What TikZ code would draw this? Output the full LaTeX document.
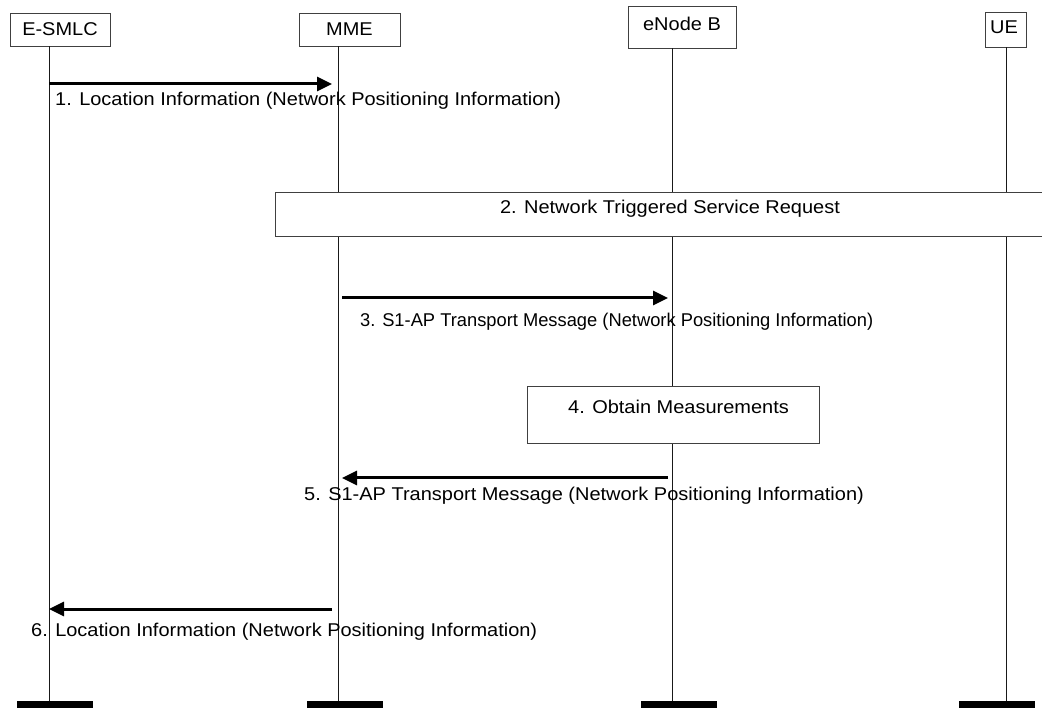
\documentclass[tikz,border=0pt]{standalone}
\usepackage{fontspec}
\setmainfont{Liberation Sans}
\usetikzlibrary{arrows.meta}
\newcommand{\wx}[1]{\scalebox{1.08}[1]{#1}}
\begin{document}
\begin{tikzpicture}[x=1pt,y=-1pt,
  box/.style={draw=black!75, line width=0.9pt, fill=white, inner sep=0pt},
  txt/.style={inner sep=0pt, font=\fontsize{18.5}{21}\selectfont},
  life/.style={line width=1pt, black!90},
  msg/.style={line width=3pt, -{Triangle[length=15pt,width=14pt]}},
  bar/.style={fill=black, inner sep=0pt, minimum width=76pt, minimum height=7pt}]
\useasboundingbox (0,0) rectangle (1042,708);
\clip (0,0) rectangle (1042,708);
% lifeline x positions
\coordinate (x1) at (49,0);
\coordinate (x2) at (338,0);
\coordinate (x3) at (672,0);
\coordinate (x4) at (1006,0);
% headers
\node[box, txt, minimum width=100pt, minimum height=33pt] (esmlc) at (60,29.5) {\wx{E-SMLC}};
\node[box, txt, minimum width=101pt, minimum height=33pt] (mme) at (349.5,29.5) {\wx{MME}};
\node[box, minimum width=108pt, minimum height=42pt] (enb) at (682,27) {};
\node[txt] (enbt) at (682,24) {\wx{eNode B}};
\node[box, minimum width=41pt, minimum height=35pt] (ue) at (1005.5,29.5) {};
\node[txt] (uet) at (1004,27) {\wx{UE}};
% bottom bars
\node[bar] (bar1) at (55,704.5) {};
\node[bar] (bar2) at (345,704.5) {};
\node[bar] (bar3) at (679,704.5) {};
\node[bar] (bar4) at (997,704.5) {};
% lifelines
\draw[life] (x1 |- esmlc.south) -- (x1 |- bar1.north);
\draw[life] (x2 |- mme.south) -- (x2 |- bar2.north);
\draw[life] (x3 |- enb.south) -- (x3 |- bar3.north);
\draw[life] (x4 |- ue.south) -- (x4 |- bar4.north);
% step boxes
\node[box, minimum width=780pt, minimum height=44pt] (sr) at (665,214) {};
\node[txt] (srt) at (670,209) {\wx{2. Network Triggered Service Request}};
\node[box, minimum width=292pt, minimum height=57pt] (om) at (673,414.5) {};
\node[txt, anchor=west] (omt) at (568,407) {\wx{4. Obtain Measurements}};
% messages
\coordinate (m1s) at (49,84);  \coordinate (m1e) at (332,84);
\coordinate (m3s) at (342,298); \coordinate (m3e) at (668,298);
\coordinate (m5s) at (668,478); \coordinate (m5e) at (342,478);
\coordinate (m6s) at (332,609); \coordinate (m6e) at (49,609);
\draw[msg] (m1s) -- (m1e);
\draw[msg] (m3s) -- (m3e);
\draw[msg] (m5s) -- (m5e);
\draw[msg] (m6s) -- (m6e);
% labels
\node[txt, anchor=west] (lab1) at (55,101) {\wx{1. Location Information (Network Positioning Information)}};
\node[txt, anchor=west] (lab3) at (360,322) {\scalebox{0.99}[1]{3. S1-AP Transport Message (Network Positioning Information)}};
\node[txt, anchor=west] (lab5) at (304,496) {\wx{5. S1-AP Transport Message (Network Positioning Information)}};
\node[txt, anchor=west] (lab6) at (31,632) {\wx{6. Location Information (Network Positioning Information)}};
\end{tikzpicture}
\end{document}
